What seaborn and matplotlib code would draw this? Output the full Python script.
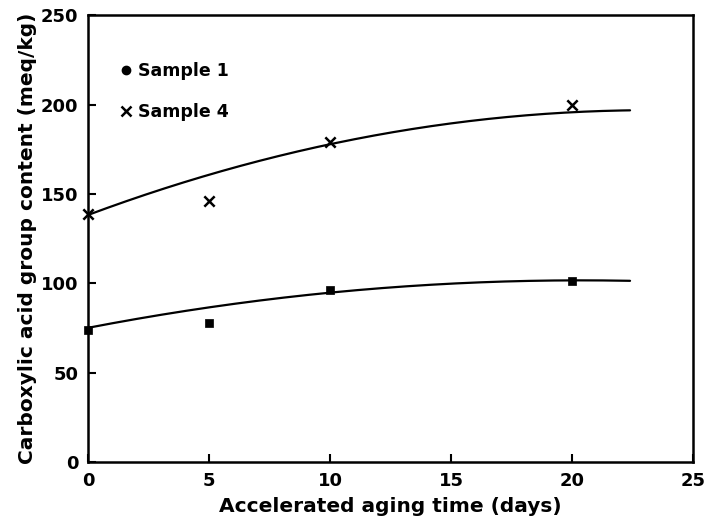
import numpy as np
import pandas as pd
import matplotlib
matplotlib.use("Agg")
import matplotlib.pyplot as plt
from matplotlib.lines import Line2D
import seaborn as sns

# Measured points
days = [0, 5, 10, 20]
sample1 = [74, 77.5, 96, 101]
sample4 = [139, 146, 179, 200]

# Fitted curve read-off points
curve_x = [0, 5, 10, 15, 20, 22.4]
curve1 = [75, 86.5, 95, 99.5, 101.5, 101.5]
curve4 = [138, 161, 178, 189, 195.5, 197]

xticks = [0, 5, 10, 15, 20, 25]
yticks = [0, 50, 100, 150, 200, 250]

sns.set_theme(style="ticks")
plt.rcParams['font.family'] = ['DejaVu Sans']
plt.rcParams['text.color'] = 'black'
plt.rcParams['axes.labelcolor'] = 'black'

fig = plt.figure(figsize=(7.1, 5.22), dpi=100)
ax = fig.add_axes([0.124, 0.115, 0.852, 0.856])

# smooth fitted curves (quadratic through read-off points)
grid = np.linspace(curve_x[0], curve_x[-1], 200)
for cy in (curve1, curve4):
    coef = np.polyfit(curve_x, cy, 2)
    dfc = pd.DataFrame({"x": grid, "y": np.polyval(coef, grid)})
    sns.lineplot(data=dfc, x="x", y="y", ax=ax, color="black", lw=1.6, legend=False)

df1 = pd.DataFrame({"x": days, "y": sample1})
df4 = pd.DataFrame({"x": days, "y": sample4})
sns.scatterplot(data=df1, x="x", y="y", ax=ax, marker="s", s=40, color="black",
                edgecolor="black", zorder=5, clip_on=False, legend=False)
sns.scatterplot(data=df4, x="x", y="y", ax=ax, marker="x", s=55, color="black",
                linewidth=1.8, zorder=5, clip_on=False, legend=False)

ax.set_xlim(0, 25)
ax.set_ylim(0, 250)
ax.set_xticks(xticks)
ax.set_yticks(yticks)
ax.set_xticklabels([str(t) for t in xticks], fontsize=13, fontweight="bold")
ax.set_yticklabels([str(t) for t in yticks], fontsize=13, fontweight="bold")
ax.tick_params(direction="in", length=6, width=1.5, pad=7, colors="black")
for sp in ax.spines.values():
    sp.set_linewidth(1.8)
    sp.set_color("black")

ax.set_xlabel("Accelerated aging time (days)", fontsize=14.5, fontweight="bold", labelpad=5)
ax.set_ylabel("Carboxylic acid group content (meq/kg)", fontsize=14.5, fontweight="bold", labelpad=3)

handles = [Line2D([], [], ls="none", marker="o", ms=6, color="black"),
           Line2D([], [], ls="none", marker="x", ms=6.5, mew=1.8, color="black")]
ax.legend(handles, ["Sample 1", "Sample 4"], loc="upper left",
          bbox_to_anchor=(0.02, 0.93), frameon=False,
          prop={"size": 12.5, "weight": "bold"}, handletextpad=0.1,
          handlelength=1.2, labelspacing=1.3)

fig.savefig("out.png", dpi=100)
